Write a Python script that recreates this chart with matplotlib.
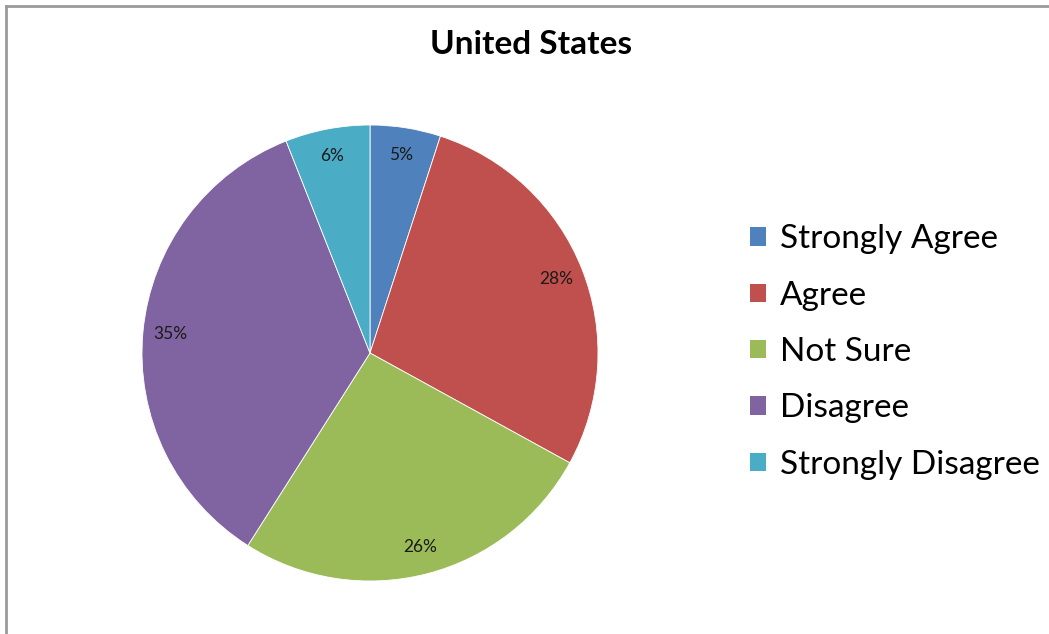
import matplotlib
matplotlib.use("Agg")
import matplotlib.pyplot as plt
from matplotlib.patches import Patch
from matplotlib.lines import Line2D

categories = ["Strongly Agree", "Agree", "Not Sure", "Disagree", "Strongly Disagree"]
values = [5, 28, 26, 35, 6]
colors = ["#4F81BD", "#C0504D", "#9BBB59", "#8064A2", "#4BACC6"]
title = "United States"

W, H = 1049, 634
fig = plt.figure(figsize=(W / 100, H / 100), dpi=100)
fig.patch.set_facecolor("white")

# frame lines (top and left)
fig.add_artist(Line2D([5.5 / W, 5.5 / W], [0, 1 - 5.5 / H], transform=fig.transFigure,
                      color="#9a9a9a", lw=2))
fig.add_artist(Line2D([5.5 / W, 1], [1 - 5.5 / H, 1 - 5.5 / H], transform=fig.transFigure,
                      color="#9a9a9a", lw=2))

cx, cy, r = 370, 353, 228
ax = fig.add_axes([(cx - r) / W, (H - cy - r) / H, 2 * r / W, 2 * r / H])
wedges, texts, autotexts = ax.pie(
    values, colors=colors, startangle=90, counterclock=False,
    autopct="%1.0f%%", pctdistance=0.88,
    wedgeprops=dict(edgecolor="white", linewidth=0.6),
    textprops=dict(fontsize=12.5, color="#1a1a1a", family="Lato"),
)
ax.set_xlim(-1, 1)
ax.set_ylim(-1, 1)
ax.axis("off")

fig.text(531 / W, 1 - 45 / H, title, ha="center", va="center",
         fontsize=24, fontweight="bold", family="Lato", color="#000000")

handles = [Patch(facecolor=c, edgecolor="none") for c in colors]
leg = fig.legend(handles, categories, loc="center left",
                 bbox_to_anchor=(750 / W, 1 - 352 / H), frameon=False,
                 prop=dict(family="Lato", size=24), handlelength=0.48, handleheight=0.48,
                 handletextpad=0.42, labelspacing=0.79, borderaxespad=0, borderpad=0)

fig.savefig("out.png", dpi=100, facecolor="white")
